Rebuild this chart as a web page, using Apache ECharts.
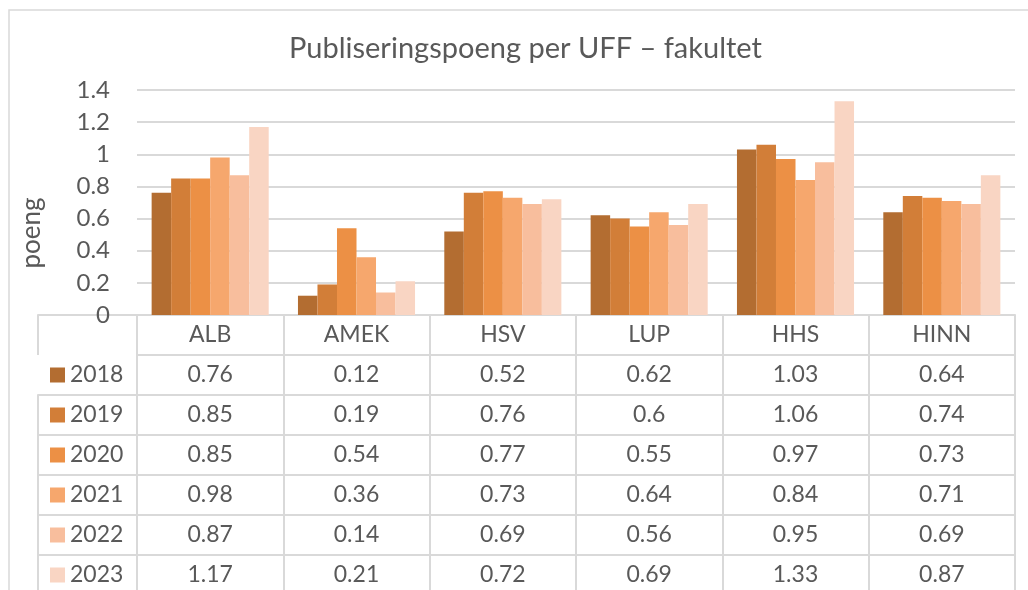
<!DOCTYPE html>
<html>
<head>
<meta charset="utf-8"/>
<title>Publiseringspoeng per UFF</title>
<script src="https://cdn.jsdelivr.net/npm/echarts@6/dist/echarts.min.js"></script>
<style>
  html, body { margin: 0; padding: 0; background: #fff; }
  #chart { width: 1028px; height: 590px; }
</style>
</head>
<body>
<div id="chart"></div>
<script>
// data
var fakulteter = ['ALB', 'AMEK', 'HSV', 'LUP', 'HHS', 'HINN'];
var aar = ['2018', '2019', '2020', '2021', '2022', '2023'];
var v2018 = [0.76, 0.12, 0.52, 0.62, 1.03, 0.64];
var v2019 = [0.85, 0.19, 0.76, 0.6, 1.06, 0.74];
var v2020 = [0.85, 0.54, 0.77, 0.55, 0.97, 0.73];
var v2021 = [0.98, 0.36, 0.73, 0.64, 0.84, 0.71];
var v2022 = [0.87, 0.14, 0.69, 0.56, 0.95, 0.69];
var v2023 = [1.17, 0.21, 0.72, 0.69, 1.33, 0.87];
var yTicks = [0, 0.2, 0.4, 0.6, 0.8, 1, 1.2, 1.4];

var rader = [v2018, v2019, v2020, v2021, v2022, v2023];
var farger = ['#b36d31', '#d27e38', '#ec9045', '#f6a76d', '#f8be9d', '#f9d5c3'];
var tekst = '#595959';
var linje = '#d9d9d9';
var font = 'Lato';
var radH = 40;
var fs = 23; // tabell/legende

var myChart = echarts.init(document.getElementById('chart'));

// x-akser: overskrift + en akse per tabellrad (gir linjer og celletekst)
var xAxes = [{
  type: 'category', gridIndex: 0, data: fakulteter, position: 'bottom',
  axisLine: { show: true, lineStyle: { color: linje, width: 2 } },
  axisTick: { show: true, length: radH, lineStyle: { color: linje, width: 2 } },
  axisLabel: { interval: 0, margin: 8, fontSize: fs, lineHeight: fs, color: tekst, fontFamily: font },
  splitLine: { show: false }
}];
rader.forEach(function (rad, i) {
  xAxes.push({
    type: 'category', gridIndex: 0, data: fakulteter, position: 'bottom', offset: radH * (i + 1),
    axisLine: { show: true, lineStyle: { color: linje, width: 2 } },
    axisTick: { show: true, length: radH, lineStyle: { color: linje, width: 2 } },
    axisLabel: {
      interval: 0, margin: 8, fontSize: fs, lineHeight: fs, color: tekst, fontFamily: font,
      formatter: function (v, idx) { return String(rad[idx]); }
    },
    splitLine: { show: false }
  });
});
// legendekolonnen til venstre
rader.forEach(function (rad, i) {
  xAxes.push({
    type: 'category', gridIndex: 1, data: [''], position: 'bottom', offset: radH * (i + 1),
    axisLine: { show: true, lineStyle: { color: linje, width: 2 } },
    axisTick: { show: true, length: radH, lineStyle: { color: linje, width: 2 } },
    axisLabel: { show: false },
    splitLine: { show: false }
  });
});

var series = aar.map(function (a, i) {
  return {
    name: a, type: 'bar', xAxisIndex: 0, yAxisIndex: 0,
    data: rader[i], barGap: '0%', barCategoryGap: '20%',
    itemStyle: { color: farger[i] }
  };
});

var option = {
  animation: false,
  backgroundColor: '#fff',
  textStyle: { fontFamily: font },
  title: {
    text: 'Publiseringspoeng per UFF \u2013 fakultet',
    left: 284, top: 29,
    textStyle: { fontSize: 29, fontWeight: 'normal', color: tekst, fontFamily: font }
  },
  legend: {
    orient: 'vertical', left: 50, top: 375 - fs / 2, padding: 0,
    itemWidth: 15, itemHeight: 15, itemGap: radH - fs,
    icon: 'rect', data: aar,
    textStyle: { fontSize: fs, lineHeight: fs, color: tekst, fontFamily: font }
  },
  grid: [
    { left: 137, right: 13, top: 90, bottom: 275, outerBoundsMode: 'none', containLabel: false },
    { left: 38, width: 99, top: 90, bottom: 275, outerBoundsMode: 'none', containLabel: false }
  ],
  xAxis: xAxes,
  yAxis: [{
    type: 'value', gridIndex: 0, min: yTicks[0], max: yTicks[yTicks.length - 1], interval: 0.2,
    axisLine: { show: false }, axisTick: { show: false },
    axisLabel: { margin: 27, fontSize: 24, color: tekst, fontFamily: font },
    splitLine: { lineStyle: { color: linje, width: 2 } }
  }, {
    type: 'value', gridIndex: 1, min: 0, max: 1, show: false
  }],
  graphic: [{
    type: 'rect', z: -1, silent: true,
    shape: { x: 9, y: 10, width: 1100, height: 700 },
    style: { fill: 'none', stroke: linje, lineWidth: 1.5 }
  }, {
    type: 'text', x: 32, y: 233, rotation: Math.PI / 2, silent: true,
    style: { text: 'poeng', fontSize: 26, fill: tekst, fontFamily: font, align: 'center', verticalAlign: 'middle' }
  }],
  series: series
};

myChart.setOption(option);
</script>
</body>
</html>
